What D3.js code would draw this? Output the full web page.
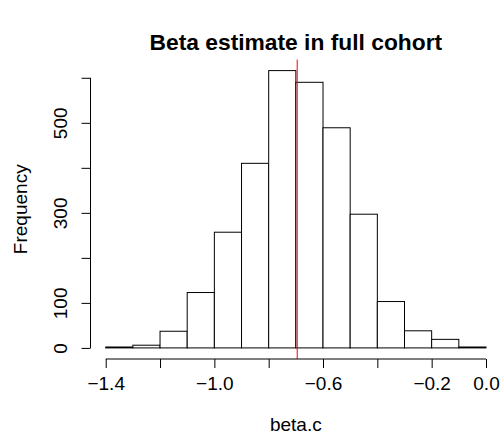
<!DOCTYPE html>
<html>
<head>
<meta charset="utf-8">
<script src="https://cdn.jsdelivr.net/npm/d3@7"></script>
<style>
  body { margin: 0; background: #fff; }
  svg text { font-family: "Liberation Sans", Arial, Helvetica, sans-serif; }
</style>
</head>
<body>
<svg id="chart" width="500" height="434"></svg>
<script>
/**
 * Histogram: Beta estimate in full cohort
 * ---------------------------------------
 * base-R style histogram, bins of width 0.1
 */

// bin edges (left edge of each bin, width 0.1)
var binStarts = [-1.4, -1.3, -1.2, -1.1, -1.0, -0.9, -0.8, -0.7, -0.6, -0.5, -0.4, -0.3, -0.2, -0.1];
var binWidth = 0.1;
// counts
var counts = [2, 6, 37, 123, 257, 410, 616, 590, 489, 297, 103, 38, 19, 2];

// vertical marker (estimate in full cohort)
var refLine = -0.695;

// ticks as R draws them; labels that R drops are empty strings
var xTicks = [-1.4, -1.2, -1.0, -0.8, -0.6, -0.4, -0.2, 0.0];
var xTickLabels = ["\u22121.4", "", "\u22121.0", "", "\u22120.6", "", "\u22120.2", "0.0"];
var yTicks = [0, 100, 200, 300, 400, 500, 600];
var yTickLabels = ["0", "100", "", "300", "", "500", ""];

var title = "Beta estimate in full cohort";
var xLabel = "beta.c";
var yLabel = "Frequency";

// plot region (pixels)
var plot = {left: 90.5, right: 501.2, top: 59.5, bottom: 359};

var svg = d3.select("#chart");

// R extends the data range by 4% on each side
var xMin = binStarts[0], xMax = binStarts[binStarts.length - 1] + binWidth;
var xPad = (xMax - xMin) * 0.04;
var x = d3.scaleLinear()
  .domain([xMin - xPad, xMax + xPad])
  .range([plot.left, plot.right]);

var yMax = d3.max(counts);
var y = d3.scaleLinear()
  .domain([-0.04 * yMax, 1.04 * yMax])
  .range([plot.bottom, plot.top]);

// bars
svg.append("g")
  .selectAll("rect")
  .data(counts)
  .join("rect")
  .attr("x", function(d, i){ return x(binStarts[i]); })
  .attr("y", function(d){ return y(d); })
  .attr("width", function(d, i){ return x(binStarts[i] + binWidth) - x(binStarts[i]); })
  .attr("height", function(d){ return y(0) - y(d); })
  .attr("fill", "#fff")
  .attr("stroke", "#000")
  .attr("stroke-width", 1);

// red line, clipped to the plot region like abline()
svg.append("line")
  .attr("x1", x(refLine)).attr("x2", x(refLine))
  .attr("y1", plot.top).attr("y2", plot.bottom)
  .attr("stroke", "#ff0000")
  .attr("stroke-width", 1);

// x axis
var xAxis = svg.append("g")
  .attr("transform", "translate(0," + plot.bottom + ")")
  .call(d3.axisBottom(x)
    .tickValues(xTicks)
    .tickFormat(function(d, i){ return xTickLabels[i]; })
    .tickSize(9)
    .tickSizeOuter(0)
    .tickPadding(5));
// axis line only between first and last tick
xAxis.select(".domain")
  .attr("d", "M" + x(xTicks[0]) + ",0H" + x(xTicks[xTicks.length - 1]));
xAxis.selectAll("text")
  .attr("font-size", 19)
  .attr("dy", null)
  .attr("y", 31);

// y axis
var yAxis = svg.append("g")
  .attr("transform", "translate(" + plot.left + ",0)")
  .call(d3.axisLeft(y)
    .tickValues(yTicks)
    .tickFormat(function(d, i){ return yTickLabels[i]; })
    .tickSize(9)
    .tickSizeOuter(0));
yAxis.select(".domain")
  .attr("d", "M0," + y(yTicks[0]) + "V" + y(yTicks[yTicks.length - 1]));
yAxis.selectAll("text")
  .attr("font-size", 19)
  .attr("x", null).attr("dy", null)
  .attr("text-anchor", "middle")
  .attr("transform", "translate(-24,0) rotate(-90)");

svg.selectAll(".domain, .tick line")
  .attr("stroke", "#000");
svg.selectAll(".tick text")
  .attr("fill", "#000");

// titles
var midX = (plot.left + plot.right) / 2;
svg.append("text")
  .attr("x", midX).attr("y", 50)
  .attr("text-anchor", "middle")
  .attr("font-size", 22.8)
  .attr("font-weight", "bold")
  .attr("fill", "#000")
  .text(title);

svg.append("text")
  .attr("x", midX).attr("y", 431)
  .attr("text-anchor", "middle")
  .attr("font-size", 19)
  .attr("fill", "#000")
  .text(xLabel);

svg.append("text")
  .attr("transform", "translate(27," + ((plot.top + plot.bottom) / 2) + ") rotate(-90)")
  .attr("text-anchor", "middle")
  .attr("font-size", 19)
  .attr("fill", "#000")
  .text(yLabel);
</script>
</body>
</html>
